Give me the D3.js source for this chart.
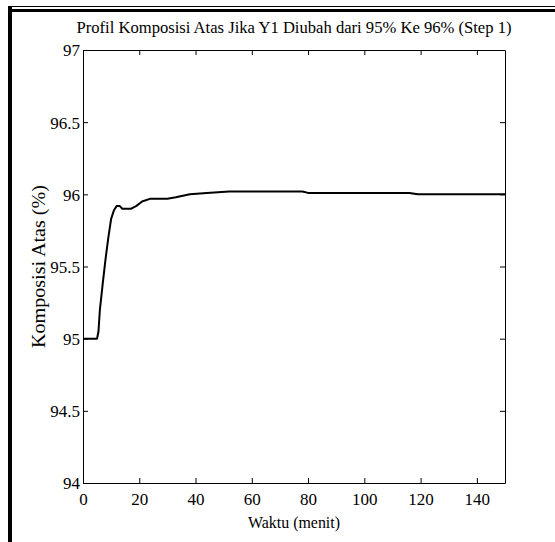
<!DOCTYPE html>
<html>
<head>
<meta charset="utf-8">
<script src="https://cdn.jsdelivr.net/npm/d3@7"></script>
<style>
  body { margin: 0; background: #fff; }
</style>
</head>
<body>
<svg id="chart"></svg>
<script>
// data
const waktu = [0, 5, 5.5, 6, 7, 8, 9, 10, 11, 12, 13, 14, 17, 19, 21, 24, 30, 33, 38, 44, 52, 78, 80, 116, 119, 150];
const komposisi = [95, 95, 95.05, 95.2, 95.38, 95.55, 95.7, 95.83, 95.89, 95.92, 95.92, 95.9, 95.9, 95.92, 95.95, 95.97, 95.97, 95.98, 96.0, 96.01, 96.02, 96.02, 96.01, 96.01, 96.0, 96.0];
const xTicks = [0, 20, 40, 60, 80, 100, 120, 140];
const yTicks = [94, 94.5, 95, 95.5, 96, 96.5, 97];

const width = 555;
const height = 542;
const margin = { left: 83, right: 50, top: 50, bottom: 59 };
const visWidth = width - margin.left - margin.right;
const visHeight = height - margin.top - margin.bottom;
const serif = '"Liberation Serif"';

const svg = d3.select('svg#chart').attr('width', width).attr('height', height);

// page frame
svg.append('rect').attr('x', 8).attr('y', 6).attr('width', 4).attr('height', height - 6).attr('fill', '#000');
svg.append('rect').attr('x', 8).attr('y', 6).attr('width', width - 8).attr('height', 1).attr('fill', '#000');
svg.append('rect').attr('x', 12).attr('y', 9).attr('width', width - 12).attr('height', 3).attr('fill', '#000');

const g = svg.append('g').attr('transform', 'translate(' + margin.left + ', ' + margin.top + ')');

const xScale = d3.scaleLinear().domain([0, 150]).range([0, visWidth]);
const yScale = d3.scaleLinear().domain([94, 97]).range([visHeight, 0]);

const fmt = d => d3.format('~g')(d);

// axes with inward ticks (box style)
const xAxis = g.append('g').attr('transform', `translate(0, ${visHeight})`)
  .call(d3.axisBottom(xScale).tickValues(xTicks).tickSizeInner(-5).tickSizeOuter(0).tickPadding(10).tickFormat(fmt));
const xTop = g.append('g')
  .call(d3.axisTop(xScale).tickValues(xTicks).tickSizeInner(-5).tickSizeOuter(0).tickFormat(''));
const yAxis = g.append('g')
  .call(d3.axisLeft(yScale).tickValues(yTicks).tickSizeInner(-5).tickSizeOuter(0).tickPadding(8).tickFormat(fmt));
const yRight = g.append('g').attr('transform', `translate(${visWidth}, 0)`)
  .call(d3.axisRight(yScale).tickValues(yTicks).tickSizeInner(-5).tickSizeOuter(0).tickFormat(''));

[xAxis, xTop, yAxis, yRight].forEach(a => {
  a.select('.domain').attr('stroke', '#000').attr('stroke-width', 1);
  a.selectAll('.tick line').attr('stroke', '#000');
  a.selectAll('.tick text')
    .attr('fill', '#000')
    .style('font-family', serif)
    .style('font-size', '17px');
});
xAxis.selectAll('.tick text').attr('y', 10).attr('dy', '0.71em');
yAxis.selectAll('.tick text').attr('x', -3).attr('dy', '0.35em');

// the line
const line = d3.line().x((d, i) => xScale(waktu[i])).y(d => yScale(d));
g.append('path').datum(komposisi)
  .attr('d', line)
  .attr('fill', 'none')
  .attr('stroke', '#000')
  .attr('stroke-width', 2)
  .attr('stroke-linejoin', 'round');

// labels
function label(txt, size, len) {
  return g.append('text')
    .attr('text-anchor', 'middle')
    .style('font-family', serif).style('font-size', size + 'px')
    .attr('textLength', len).attr('lengthAdjust', 'spacingAndGlyphs')
    .text(txt);
}
label('Profil Komposisi Atas Jika Y1 Diubah dari 95% Ke 96% (Step 1)', 17, 435)
  .attr('x', visWidth / 2).attr('y', -17);
label('Waktu (menit)', 17, 92)
  .attr('x', visWidth / 2).attr('y', visHeight + 45);
label('Komposisi Atas (%)', 18, 163)
  .attr('transform', 'rotate(-90)')
  .attr('x', -visHeight / 2).attr('y', -38);
</script>
</body>
</html>
